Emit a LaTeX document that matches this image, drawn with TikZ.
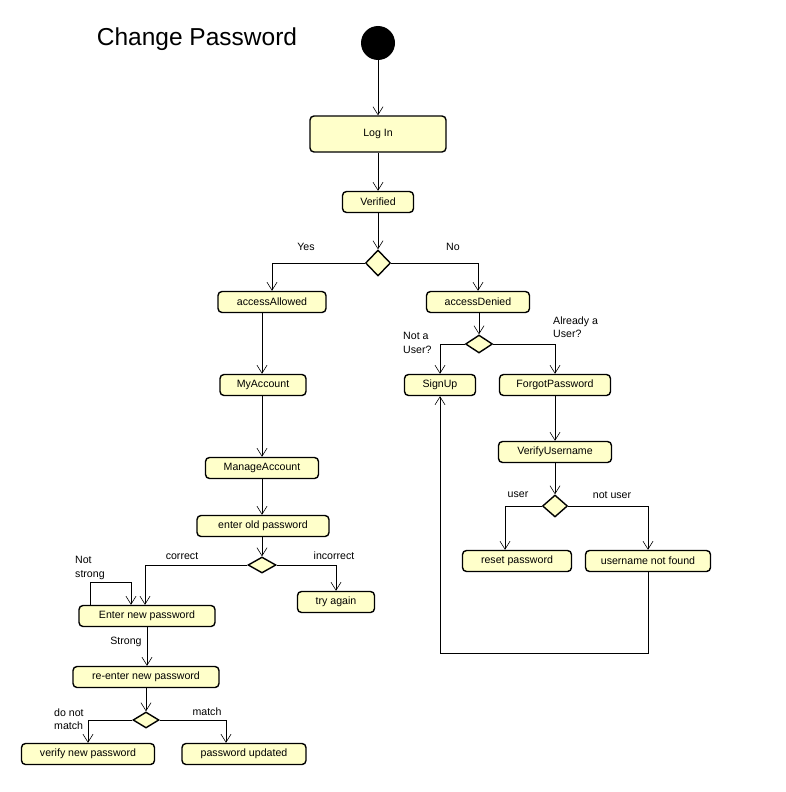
\documentclass[tikz,border=0pt]{standalone}
\usepackage{fontspec}
\setmainfont{Liberation Sans}
\usetikzlibrary{shapes.geometric,arrows.meta}
\definecolor{actfill}{RGB}{255,255,202}
\tikzset{
  act/.style={draw=black, line width=1.4pt, fill=actfill, rounded corners=4pt,
    inner sep=0pt, font=\fontsize{10.6}{12}\selectfont},
  dec/.style={draw=black, line width=1.4pt, fill=actfill, diamond, inner sep=0pt},
  arr/.style={draw=black, line width=0.6pt, -{Straight Barb[length=8pt,width=10pt,line width=0.6pt]}},
  ln/.style={draw=black, line width=0.6pt},
  lbl/.style={font=\fontsize{10.6}{13.5}\selectfont, inner sep=0pt, align=left}
}
\begin{document}
\begin{tikzpicture}[x=1pt,y=-1pt]
\useasboundingbox (0,0) rectangle (786,792);
\node[font=\fontsize{24.5}{28}\selectfont, inner sep=0pt] (title) at (197,39) {Change Password};
\node[circle, fill=black, minimum size=34pt, inner sep=0pt] (start) at (378,43) {};
\node[act, minimum width=136pt, minimum height=36pt] (login) at (378,134) {Log In};
\node[act, minimum width=71pt, minimum height=21pt] (ver) at (378,202) {Verified};
\node[dec, minimum width=25pt, minimum height=26pt] (d1) at (378,263) {};
\node[act, minimum width=108pt, minimum height=21pt] (aa) at (272,302) {accessAllowed};
\node[act, minimum width=103pt, minimum height=21pt] (ad) at (478,302) {accessDenied};
\node[dec, minimum width=27pt, minimum height=18pt] (d2) at (479,344) {};
\node[act, minimum width=71pt, minimum height=21pt] (su) at (440,385) {SignUp};
\node[act, minimum width=111pt, minimum height=21pt] (fp) at (555,385) {ForgotPassword};
\node[act, minimum width=113pt, minimum height=21pt] (vu) at (555,452) {VerifyUsername};
\node[dec, minimum width=25pt, minimum height=22pt] (d3) at (555,506) {};
\node[act, minimum width=109pt, minimum height=21pt] (rp) at (517,561) {reset password};
\node[act, minimum width=125pt, minimum height=21pt] (unf) at (648,561) {username not found};
\node[act, minimum width=86pt, minimum height=21pt] (ma) at (263,385) {MyAccount};
\node[act, minimum width=113pt, minimum height=21pt] (mg) at (262,468) {ManageAccount};
\node[act, minimum width=132pt, minimum height=21pt] (eop) at (263,526) {enter old password};
\node[dec, minimum width=28pt, minimum height=16pt] (d4) at (262,565) {};
\node[act, minimum width=136pt, minimum height=21pt] (enp) at (147,616) {Enter new password};
\node[act, minimum width=77pt, minimum height=21pt] (ta) at (336,602) {try again};
\node[act, minimum width=146pt, minimum height=21pt] (rnp) at (146,677) {re-enter new password};
\node[dec, minimum width=26pt, minimum height=16pt] (d5) at (146,720) {};
\node[act, minimum width=133pt, minimum height=21pt] (vnp) at (88,754) {verify new password};
\node[act, minimum width=124pt, minimum height=21pt] (pu) at (244,754) {password updated};

% labels
\node[lbl] (lyes) at (306,247) {Yes};
\node[lbl] (lno) at (453,247) {No};
\node[lbl, anchor=west] (lnotuser) at (403,343) {Not a\\User?};
\node[lbl, anchor=west] (lalready) at (553,327) {Already a\\User?};
\node[lbl] (luser) at (518,495) {user};
\node[lbl] (lnotu) at (612,495) {not user};
\node[lbl] (lcorr) at (182,556) {correct};
\node[lbl] (lincorr) at (334,556) {incorrect};
\node[lbl, anchor=west] (lns) at (75,568) {Not\\strong};
\node[lbl] (lstrong) at (126,642) {Strong};
\node[lbl, anchor=west] (ldnm) at (54,719) {do not\\match};
\node[lbl] (lmatch) at (207,712) {match};

% connectors
\draw[arr] (start.south) -- (login.north);
\draw[arr] (login.south) -- (ver.north);
\draw[arr] (ver.south) -- (d1.north);
\draw[arr] (d1.west) -| (aa.north);
\draw[arr] (d1.east) -| (ad.north);
\draw[arr] (ad.south -| d2.north) -- (d2.north);
\draw[arr] (d2.west) -| (su.north);
\draw[arr] (d2.east) -| (fp.north);
\draw[arr] (fp.south) -- (vu.north);
\draw[arr] (vu.south) -- (d3.north);
\draw[arr] (d3.west) -| ([xshift=-12pt]rp.north);
\draw[arr] (d3.east) -| (unf.north);
\draw[arr] (unf.south) -- ++(0,81) -| (su.south);
\draw[arr] ([xshift=-10pt]aa.south) -- ([xshift=-1pt]ma.north);
\draw[arr] ([xshift=-1pt]ma.south) -- (mg.north);
\draw[arr] (mg.south) -- (mg.south |- eop.north);
\draw[arr] (eop.south -| d4.north) -- (d4.north);
\draw[arr] (d4.west) -| ([xshift=-2pt]enp.north);
\draw[arr] (d4.east) -| (ta.north);
\draw[arr] ([xshift=-57pt]enp.north) -- ++(0,-23) -| ([xshift=-16pt]enp.north);
\draw[arr] (enp.south) -- (enp.south |- rnp.north);
\draw[arr] (rnp.south) -- (d5.north);
\draw[arr] (d5.west) -| (vnp.north);
\draw[arr] (d5.east) -| ([xshift=-18pt]pu.north);
\end{tikzpicture}
\end{document}
